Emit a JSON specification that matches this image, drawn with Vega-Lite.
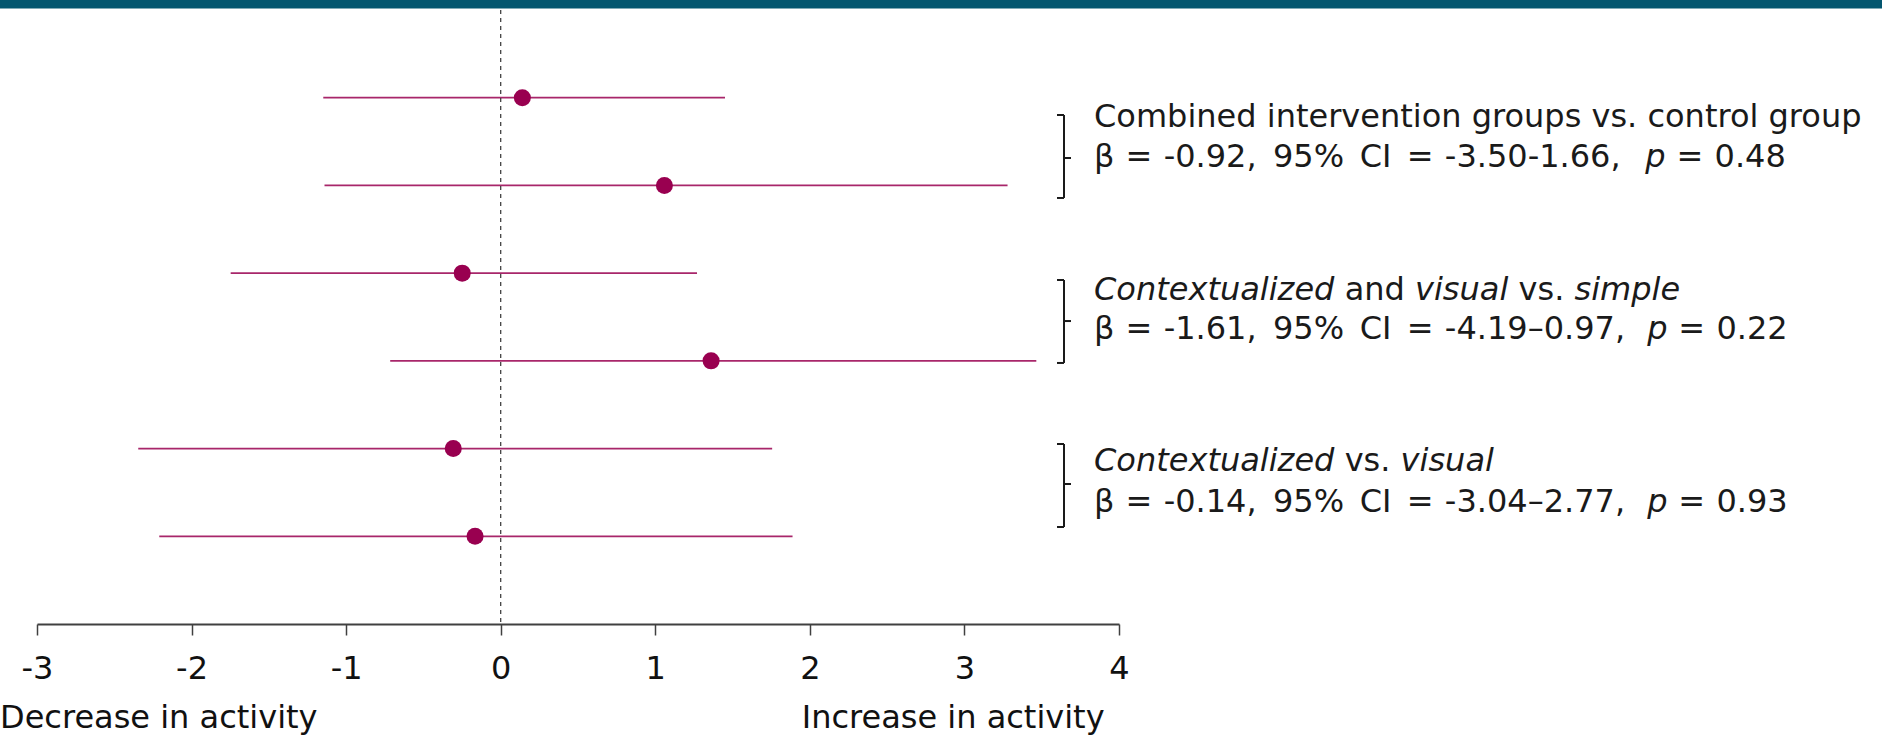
{
  "$schema": "https://vega.github.io/schema/vega-lite/v6.json",
  "width": 1082,
  "height": 614,
  "autosize": {"type": "none"},
  "padding": {"left": 37, "top": 10, "right": 763, "bottom": 112},
  "background": "white",
  "config": {
    "view": {"stroke": null},
    "font": "DejaVu Sans",
    "axisY": {"disable": true},
    "axisX": {
      "domainColor": "#404040",
      "domainWidth": 2,
      "tickColor": "#404040",
      "tickWidth": 1.5,
      "tickSize": 11,
      "labelFont": "DejaVu Sans",
      "labelFontSize": 32,
      "labelColor": "#111111",
      "labelBaseline": "alphabetic",
      "labelPadding": 43,
      "grid": false,
      "labelFlush": false,
      "labelOverlap": false,
      "title": null
    }
  },
  "datasets": {
    "estimates": [
      {"row": 1, "est": 0.14, "lo": -1.148, "hi": 1.451},
      {"row": 2, "est": 1.059, "lo": -1.14, "hi": 3.279},
      {"row": 3, "est": -0.249, "lo": -1.747, "hi": 1.27},
      {"row": 4, "est": 1.361, "lo": -0.715, "hi": 3.465},
      {"row": 5, "est": -0.307, "lo": -2.345, "hi": 1.756},
      {"row": 6, "est": -0.166, "lo": -2.209, "hi": 1.888}
    ],
    "reference": [{"x": 0}],
    "band": [{"x": -3.5, "x2": 9.3, "y": -0.12, "y2": -0.0171}],
    "textRegular": [
      {"x": 3.8384, "y": 1.3339, "t": "Combined intervention groups vs. control group"},
      {"x": 3.8384, "y": 1.7853, "t": "β"},
      {"x": 4.0426, "y": 1.7853, "t": "="},
      {"x": 4.2889, "y": 1.7853, "t": "-0.92,"},
      {"x": 4.9961, "y": 1.7853, "t": "95%"},
      {"x": 5.5572, "y": 1.7853, "t": "CI"},
      {"x": 5.8619, "y": 1.7853, "t": "="},
      {"x": 6.1081, "y": 1.7853, "t": "-3.50-1.66,"},
      {"x": 7.6065, "y": 1.7853, "t": "="},
      {"x": 7.8528, "y": 1.7853, "t": "0.48"},
      {"x": 5.4597, "y": 3.3039, "t": "and"},
      {"x": 6.5847, "y": 3.3039, "t": "vs."},
      {"x": 3.8384, "y": 3.7553, "t": "β"},
      {"x": 4.0426, "y": 3.7553, "t": "="},
      {"x": 4.2889, "y": 3.7553, "t": "-1.61,"},
      {"x": 4.9961, "y": 3.7553, "t": "95%"},
      {"x": 5.5572, "y": 3.7553, "t": "CI"},
      {"x": 5.8619, "y": 3.7553, "t": "="},
      {"x": 6.1081, "y": 3.7553, "t": "-4.19–0.97,"},
      {"x": 7.6188, "y": 3.7553, "t": "="},
      {"x": 7.8651, "y": 3.7553, "t": "0.22"},
      {"x": 5.4597, "y": 5.2614, "t": "vs."},
      {"x": 3.8384, "y": 5.7265, "t": "β"},
      {"x": 4.0426, "y": 5.7265, "t": "="},
      {"x": 4.2889, "y": 5.7265, "t": "-0.14,"},
      {"x": 4.9961, "y": 5.7265, "t": "95%"},
      {"x": 5.5572, "y": 5.7265, "t": "CI"},
      {"x": 5.8619, "y": 5.7265, "t": "="},
      {"x": 6.1081, "y": 5.7265, "t": "-3.04–2.77,"},
      {"x": 7.6188, "y": 5.7265, "t": "="},
      {"x": 7.8651, "y": 5.7265, "t": "0.93"}
    ],
    "textItalic": [
      {"x": 7.4047, "y": 1.7853, "t": "p"},
      {"x": 3.8384, "y": 3.3039, "t": "Contextualized"},
      {"x": 5.9151, "y": 3.3039, "t": "visual"},
      {"x": 6.947, "y": 3.3039, "t": "simple"},
      {"x": 7.4171, "y": 3.7553, "t": "p"},
      {"x": 3.8384, "y": 5.2614, "t": "Contextualized"},
      {"x": 5.8219, "y": 5.2614, "t": "visual"},
      {"x": 7.4171, "y": 5.7265, "t": "p"}
    ],
    "axisNotes": [
      {"x": -3.2393, "y": 8.186, "t": "Decrease in activity"},
      {"x": 1.9473, "y": 8.186, "t": "Increase in activity"}
    ],
    "brackets": [
      {"x": 3.6443, "x2": 3.6443, "y": 1.197, "y2": 2.143},
      {"x": 3.599, "x2": 3.6443, "y": 1.197, "y2": 1.197},
      {"x": 3.599, "x2": 3.6443, "y": 2.143, "y2": 2.143},
      {"x": 3.6443, "x2": 3.6896, "y": 1.687, "y2": 1.687},
      {"x": 3.6443, "x2": 3.6443, "y": 3.078, "y2": 4.024},
      {"x": 3.599, "x2": 3.6443, "y": 3.078, "y2": 3.078},
      {"x": 3.599, "x2": 3.6443, "y": 4.024, "y2": 4.024},
      {"x": 3.6443, "x2": 3.6896, "y": 3.546, "y2": 3.546},
      {"x": 3.6443, "x2": 3.6443, "y": 4.948, "y2": 5.894},
      {"x": 3.599, "x2": 3.6443, "y": 4.948, "y2": 4.948},
      {"x": 3.599, "x2": 3.6443, "y": 5.894, "y2": 5.894},
      {"x": 3.6443, "x2": 3.6896, "y": 5.404, "y2": 5.404}
    ]
  },
  "layer": [
    {
      "data": {"name": "estimates"},
      "mark": {"type": "rule", "color": "#990050", "strokeWidth": 1.8, "opacity": 0.85},
      "encoding": {
        "x": {
          "field": "lo", "type": "quantitative", "title": null,
          "scale": {"domain": [-3, 4], "nice": false, "zero": false},
          "axis": {"values": [-3, -2, -1, 0, 1, 2, 3, 4], "labelExpr": "'' + datum.value", "title": null}
        },
        "x2": {"field": "hi"},
        "y": {
          "field": "row", "type": "quantitative", "title": null,
          "scale": {"domain": [0, 7], "reverse": true, "nice": false, "zero": false}
        }
      }
    },
    {
      "data": {"name": "band"},
      "mark": {"type": "rect", "color": "#03566F"},
      "encoding": {
        "x": {"field": "x", "type": "quantitative", "title": null},
        "x2": {"field": "x2"},
        "y": {"field": "y", "type": "quantitative", "title": null},
        "y2": {"field": "y2"}
      }
    },
    {
      "data": {"name": "reference"},
      "mark": {"type": "rule", "color": "#333333", "strokeWidth": 1.2, "strokeDash": [4, 4]},
      "encoding": {
        "x": {"field": "x", "type": "quantitative", "title": null}
      }
    },
    {
      "data": {"name": "estimates"},
      "mark": {"type": "circle", "color": "#990050", "opacity": 1, "size": 290},
      "encoding": {
        "x": {"field": "est", "type": "quantitative", "title": null},
        "y": {"field": "row", "type": "quantitative", "title": null}
      }
    },
    {
      "data": {"name": "brackets"},
      "mark": {"type": "rule", "color": "#1a1a1a", "strokeWidth": 2},
      "encoding": {
        "x": {"field": "x", "type": "quantitative", "title": null},
        "x2": {"field": "x2"},
        "y": {"field": "y", "type": "quantitative", "title": null},
        "y2": {"field": "y2"}
      }
    },
    {
      "data": {"name": "textRegular"},
      "mark": {"type": "text", "align": "left", "baseline": "alphabetic", "fontSize": 32, "font": "DejaVu Sans", "color": "#1a1a1a"},
      "encoding": {
        "x": {"field": "x", "type": "quantitative", "title": null},
        "y": {"field": "y", "type": "quantitative", "title": null},
        "text": {"field": "t"}
      }
    },
    {
      "data": {"name": "textItalic"},
      "mark": {"type": "text", "align": "left", "baseline": "alphabetic", "fontSize": 32, "font": "DejaVu Sans", "fontStyle": "italic", "color": "#1a1a1a"},
      "encoding": {
        "x": {"field": "x", "type": "quantitative", "title": null},
        "y": {"field": "y", "type": "quantitative", "title": null},
        "text": {"field": "t"}
      }
    },
    {
      "data": {"name": "axisNotes"},
      "mark": {"type": "text", "align": "left", "baseline": "alphabetic", "fontSize": 32, "font": "DejaVu Sans", "color": "#111111"},
      "encoding": {
        "x": {"field": "x", "type": "quantitative", "title": null},
        "y": {"field": "y", "type": "quantitative", "title": null},
        "text": {"field": "t"}
      }
    }
  ]
}
